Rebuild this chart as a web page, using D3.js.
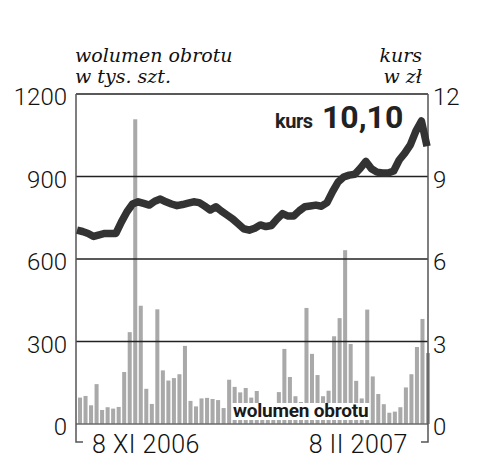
<!DOCTYPE html>
<html>
<head>
<meta charset="utf-8">
<script src="https://cdn.jsdelivr.net/npm/d3@7"></script>
<style>
  body { margin: 0; background: #fff; }
</style>
</head>
<body>
<div id="chart"></div>
<script>
// wolumen obrotu (tys. szt.), one bar per session
const volume = [96, 102, 68, 145, 51, 61, 56, 62, 189, 334, 1108, 430, 128, 73, 417, 195,
  158, 167, 181, 284, 84, 64, 93, 95, 91, 87, 58, 161, 135, 115, 131, 96,
  120, 50, 65, 45, 116, 273, 171, 101, 80, 422, 255, 178, 101, 121, 319, 385,
  632, 291, 157, 93, 416, 173, 109, 72, 41, 45, 61, 133, 181, 280, 382, 258];

// kurs w zł, same sessions
const kurs = [7.05, 7.0, 6.93, 6.82, 6.88, 6.93, 6.93, 6.93, 7.35, 7.72, 8.0, 8.08, 8.02, 7.96, 8.1, 8.18,
  8.08, 8.0, 7.94, 7.98, 8.03, 8.08, 8.05, 7.92, 7.78, 7.9, 7.74, 7.6, 7.46, 7.28, 7.1, 7.05,
  7.12, 7.24, 7.18, 7.22, 7.45, 7.65, 7.56, 7.56, 7.75, 7.9, 7.93, 7.96, 7.92, 8.05, 8.45, 8.8,
  8.98, 9.05, 9.08, 9.3, 9.55, 9.28, 9.16, 9.13, 9.13, 9.2, 9.6, 9.85, 10.15, 10.65, 11.02, 10.1];

const volTicks = [0, 300, 600, 900, 1200];
const kursTicks = [0, 3, 6, 9, 12];
const dateLabels = ["8 XI 2006", "8 II 2007"];
const lastKurs = "10,10";

const W = 500, H = 470;
const plot = { left: 76, right: 428, top: 94, bottom: 424 };

const svg = d3.select("#chart")
  .append("svg")
  .attr("width", W)
  .attr("height", H);

const sans = "Roboto, 'DejaVu Sans', sans-serif";

// Scales
let x = d3.scaleBand()
  .domain(d3.range(volume.length))
  .range([plot.left, 432])
  .paddingInner(0.27)
  .paddingOuter(0.36);

let xLine = d3.scaleLinear()
  .domain([0, kurs.length - 1])
  .range([plot.left + 1, plot.right - 1]);

let yVol = d3.scaleLinear().domain([0, 1200]).range([plot.bottom, plot.top]);
let yKurs = d3.scaleLinear().domain([0, 12]).range([plot.bottom, plot.top]);

// Bars
svg.append("g")
  .selectAll("rect")
  .data(volume)
  .enter()
  .append("rect")
  .attr("x", (d, i) => x(i))
  .attr("y", d => yVol(d))
  .attr("width", x.bandwidth())
  .attr("height", d => yVol(0) - yVol(d))
  .style("fill", "#a9a9a9");

// Volume label with white box behind it
const labelBox = svg.append("rect").style("fill", "#fff");
const volLabel = svg.append("text")
  .attr("x", 233).attr("y", 417)
  .style("font-family", sans).style("font-weight", 700).style("font-size", "19px")
  .style("letter-spacing", "-0.2px")
  .style("fill", "#1a1a1a")
  .text("wolumen obrotu");
const bb = volLabel.node().getBBox();
labelBox
  .attr("x", bb.x - 1).attr("y", 403)
  .attr("width", bb.width + 2).attr("height", 17);

// Grid lines (drawn over the bars)
svg.append("g")
  .selectAll("line")
  .data(volTicks.filter(d => d > 0))
  .enter()
  .append("line")
  .attr("x1", plot.left)
  .attr("x2", plot.right)
  .attr("y1", d => yVol(d))
  .attr("y2", d => yVol(d))
  .attr("stroke", "#222")
  .attr("stroke-width", 1.5);

svg.append("line")
  .attr("x1", plot.left).attr("x2", plot.right)
  .attr("y1", yVol(0)).attr("y2", yVol(0))
  .attr("stroke", "#6a6a6a").attr("stroke-width", 1.5);

// Side axes with the small date ticks at the bottom
const axisBottom = 442;
svg.append("path")
  .attr("d", `M${plot.left},${plot.top} V${axisBottom} H${plot.left + 7}`)
  .attr("fill", "none").attr("stroke", "#555").attr("stroke-width", 1.5);
svg.append("path")
  .attr("d", `M${plot.right},${plot.top} V${axisBottom} H${plot.right - 7}`)
  .attr("fill", "none").attr("stroke", "#555").attr("stroke-width", 1.5);

// Tick labels
svg.append("g")
  .selectAll("text")
  .data(volTicks)
  .enter()
  .append("text")
  .attr("x", 67)
  .attr("y", d => yVol(d) + 11)
  .attr("text-anchor", "end")
  .style("font-family", sans)
  .style("font-weight", 300)
  .style("font-size", "24px")
  .style("fill", "#111")
  .text(d => d);

svg.append("g")
  .selectAll("text")
  .data(kursTicks)
  .enter()
  .append("text")
  .attr("x", 433)
  .attr("y", d => yKurs(d) + 11)
  .style("font-family", sans)
  .style("font-weight", 300)
  .style("font-size", "24px")
  .style("fill", "#111")
  .text(d => d);

// Date labels
svg.append("text")
  .attr("x", 92).attr("y", 453)
  .style("font-family", sans).style("font-weight", 300).style("font-size", "25px")
  .style("letter-spacing", "0.5px")
  .style("fill", "#111")
  .text(dateLabels[0]);
svg.append("text")
  .attr("x", 408).attr("y", 453)
  .attr("text-anchor", "end")
  .style("font-family", sans).style("font-weight", 300).style("font-size", "25px")
  .style("letter-spacing", "0.5px")
  .style("fill", "#111")
  .text(dateLabels[1]);

// Axis titles (italic serif)
const serif = "'DejaVu Serif', 'Liberation Serif', serif";
[["wolumen obrotu", 62], ["w tys. szt.", 83]].forEach(t => {
  svg.append("text")
    .attr("x", 75).attr("y", t[1])
    .style("font-family", serif).style("font-style", "italic").style("font-size", "19px")
    .style("fill", "#111")
    .text(t[0]);
});
[["kurs", 62], ["w zł", 83]].forEach(t => {
  svg.append("text")
    .attr("x", 422).attr("y", t[1])
    .attr("text-anchor", "end")
    .style("font-family", serif).style("font-style", "italic").style("font-size", "19px")
    .style("fill", "#111")
    .text(t[0]);
});

// Price line
svg.append("path")
  .datum(kurs)
  .attr("d", d3.line()
    .x((d, i) => xLine(i))
    .y(d => yKurs(d)))
  .attr("fill", "none")
  .attr("stroke", "#333")
  .attr("stroke-width", 7.5)
  .attr("stroke-linejoin", "round")
  .attr("stroke-linecap", "butt");

// Last price
svg.append("text")
  .attr("x", 275).attr("y", 128)
  .style("font-family", sans).style("font-weight", 700).style("font-size", "20px")
  .style("letter-spacing", "-0.5px")
  .style("fill", "#222")
  .text("kurs");
svg.append("text")
  .attr("x", 322).attr("y", 128)
  .style("font-family", sans).style("font-weight", 700).style("font-size", "32px")
  .style("fill", "#222")
  .text(lastKurs);
</script>
</body>
</html>
